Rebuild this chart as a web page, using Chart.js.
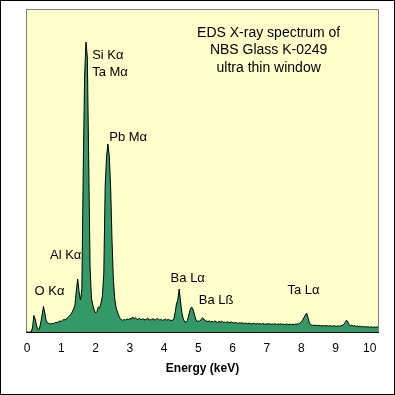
<!DOCTYPE html>
<html>
<head>
<meta charset="utf-8">
<script src="https://cdn.jsdelivr.net/npm/chart.js@4.4.0/dist/chart.umd.min.js"></script>
<style>
  html, body { margin: 0; padding: 0; background: #fff; }
  #frame { width: 395px; height: 395px; box-sizing: border-box; border: 1px solid #000; }
  #frame canvas { display: block; }
</style>
</head>
<body>
<div id="frame"><canvas id="spectrumChart" width="393" height="393"></canvas></div>
<script>
// channel width of the spectrum, keV
const channelWidth = 0.04;

// counts per channel (0.00 .. 10.24 keV)
const counts = [
    0, 0, 0, 0, 40, 165, 130, 60, 25, 30,
    90, 170, 256, 190, 110, 90, 84, 80, 86, 82,
    90, 95, 92, 104, 110, 106, 118, 125, 120, 136,
    148, 160, 178, 200, 230, 270, 420, 530, 400, 320,
    420, 1600, 2550, 2900, 2750, 1720, 650, 340, 270, 220,
    190, 205, 250, 240, 290, 360, 580, 1450, 1750, 1880,
    1760, 1450, 920, 520, 330, 240, 200, 160, 135, 120,
    118, 125, 120, 130, 124, 135, 128, 150, 135, 142,
    130, 126, 138, 122, 128, 132, 120, 127, 140, 118,
    125, 121, 136, 119, 124, 138, 126, 118, 128, 116,
    122, 130, 118, 126, 120, 115, 118, 125, 190, 280,
    320, 430, 300, 190, 130, 100, 98, 115, 170, 225,
    250, 230, 180, 130, 106, 110, 108, 125, 142, 130,
    112, 110, 104, 112, 100, 108, 98, 112, 102, 96,
    105, 99, 110, 95, 100, 92, 104, 97, 93, 100,
    95, 88, 96, 90, 86, 94, 88, 92, 84, 90,
    86, 82, 90, 84, 80, 88, 83, 79, 86, 81,
    84, 78, 85, 80, 77, 82, 79, 84, 76, 80,
    78, 83, 75, 80, 77, 82, 76, 79, 74, 80,
    77, 73, 79, 75, 78, 74, 80, 78, 82, 88,
    100, 118, 145, 170, 190, 140, 90, 72, 66, 70,
    64, 68, 63, 67, 62, 66, 60, 65, 61, 64,
    59, 63, 60, 58, 62, 59, 57, 61, 58, 63,
    66, 75, 95, 118, 100, 72, 62, 70, 58, 64,
    55, 60, 54, 58, 52, 56, 50, 55, 48, 53,
    47, 52, 46, 50, 48, 51, 49
];

const energies = counts.map((c, i) => +(i * channelWidth).toFixed(2));

// x axis tick labels (keV)
const xTicks = [0, 1, 2, 3, 4, 5, 6, 7, 8, 9, 10];

// peak labels, anchored in data units (keV, counts)
const peakLabels = [
    { text: 'Si Kα', x: 1.90, y: 2770 },
    { text: 'Ta Mα', x: 1.90, y: 2597 },
    { text: 'Pb Mα', x: 2.40, y: 1943 },
    { text: 'Al Kα', x: 0.67, y: 767 },
    { text: 'O Kα', x: 0.22, y: 403 },
    { text: 'Ba Lα', x: 4.19, y: 537 },
    { text: 'Ba Lß', x: 5.01, y: 320 },
    { text: 'Ta Lα', x: 7.60, y: 417 }
];

const noteLines = ['EDS X-ray spectrum of', 'NBS Glass K-0249', 'ultra thin window'];
const noteAnchor = { x: 7.05, y: [2990, 2815, 2635] };

const FONT = '"Liberation Sans", Arial, sans-serif';
Chart.defaults.color = '#000';
Chart.defaults.font.family = FONT;

const plotFrame = {
    id: 'plotFrame',
    beforeDraw(chart) {
        const { ctx, chartArea: a } = chart;
        ctx.save();
        ctx.fillStyle = '#FFFFCC';
        ctx.fillRect(a.left, a.top, a.right - a.left, a.bottom - a.top);
        ctx.strokeStyle = '#808080';
        ctx.lineWidth = 1;
        ctx.strokeRect(a.left - 0.5, a.top - 0.5, a.right - a.left + 1, a.bottom - a.top + 1);
        ctx.restore();
    },
    afterDraw(chart) {
        const { ctx, chartArea: a, scales } = chart;
        ctx.save();
        // axis line
        ctx.strokeStyle = '#000';
        ctx.lineWidth = 1;
        ctx.beginPath();
        ctx.moveTo(a.left - 1, a.bottom + 0.5);
        ctx.lineTo(a.right + 1, a.bottom + 0.5);
        ctx.stroke();

        ctx.fillStyle = '#000';
        ctx.textBaseline = 'middle';
        ctx.font = '13px ' + FONT;
        ctx.textAlign = 'left';
        peakLabels.forEach(function (l) {
            ctx.fillText(l.text, scales.x.getPixelForValue(l.x), scales.y.getPixelForValue(l.y));
        });

        ctx.font = '14px ' + FONT;
        ctx.textAlign = 'center';
        noteLines.forEach(function (t, i) {
            ctx.fillText(t, scales.x.getPixelForValue(noteAnchor.x), scales.y.getPixelForValue(noteAnchor.y[i]));
        });
        ctx.restore();
    }
};

const ctx = document.getElementById('spectrumChart').getContext('2d');
new Chart(ctx, {
    type: 'line',
    data: {
        datasets: [{
            data: energies.map((e, i) => ({ x: e, y: counts[i] })),
            fill: 'origin',
            backgroundColor: '#339966',
            borderColor: '#000',
            borderWidth: 1,
            pointRadius: 0,
            tension: 0
        }]
    },
    options: {
        responsive: false,
        animation: false,
        layout: { padding: { left: 26, right: 16, top: 9, bottom: 0 } },
        plugins: {
            legend: { display: false },
            tooltip: { enabled: false }
        },
        scales: {
            x: {
                type: 'linear',
                min: 0,
                max: 10.24,
                grid: { display: false, drawTicks: false },
                border: { display: false },
                afterBuildTicks: function (scale) {
                    scale.ticks = xTicks.map(v => ({ value: v }));
                },
                ticks: {
                    padding: 9,
                    maxRotation: 0,
                    autoSkip: false,
                    font: { size: 12 },
                    color: '#000'
                },
                title: {
                    display: true,
                    text: 'Energy (keV)',
                    font: { size: 12, weight: 'bold' },
                    color: '#000',
                    padding: { top: 0, bottom: 18 }
                },
                afterFit: function (scale) {
                    scale.height = 62;
                }
            },
            y: {
                display: false,
                min: 0,
                max: 3220
            }
        }
    },
    plugins: [plotFrame]
});
</script>
</body>
</html>
